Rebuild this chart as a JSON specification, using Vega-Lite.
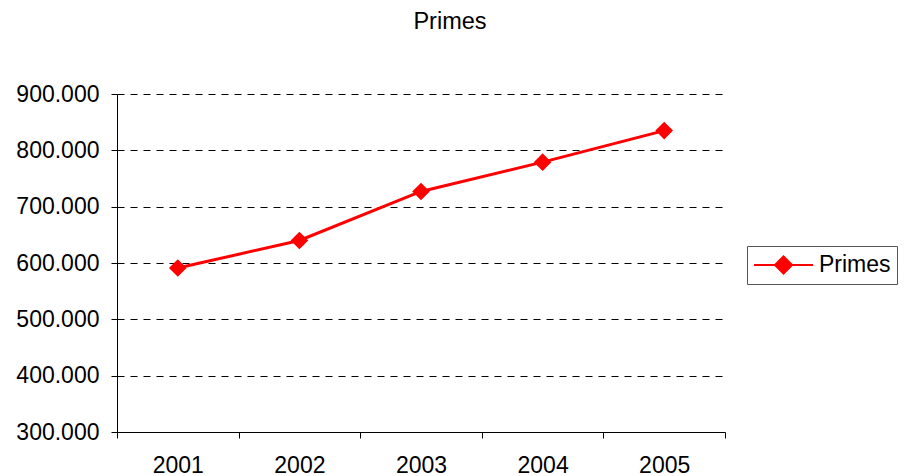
{
  "$schema": "https://vega.github.io/schema/vega-lite/v6.json",
  "width": 608,
  "height": 338,
  "autosize": {"type": "none"},
  "padding": {"left": 117, "top": 94, "right": 181, "bottom": 44},
  "background": "white",
  "title": {"text": "Primes", "font": "Liberation Sans", "fontSize": 23.5, "fontWeight": "normal", "color": "black", "anchor": "middle", "dx": 29, "offset": 50},
  "config": {
    "view": {"stroke": null},
    "axis": {"labelFont": "Liberation Sans", "labelFontSize": 23, "labelColor": "black", "domainColor": "black", "tickColor": "black", "domainWidth": 1, "tickWidth": 1, "titleFontSize": 0}
  },
  "data": {
    "values": [
      {"year": 2001, "value": 591000, "series": "Primes"},
      {"year": 2002, "value": 640000, "series": "Primes"},
      {"year": 2003, "value": 727000, "series": "Primes"},
      {"year": 2004, "value": 779000, "series": "Primes"},
      {"year": 2005, "value": 835000, "series": "Primes"}
    ]
  },
  "encoding": {
    "x": {
      "field": "year", "type": "quantitative",
      "scale": {"domain": [2000.5, 2005.5], "nice": false, "zero": false},
      "axis": {
        "title": null, "grid": false,
        "values": [2000.5, 2001, 2001.5, 2002, 2002.5, 2003, 2003.5, 2004, 2004.5, 2005, 2005.5],
        "labelExpr": "datum.value % 1 === 0 ? '' + datum.value : ''",
        "tickOpacity": {"condition": {"test": "datum.value % 1 === 0", "value": 0}, "value": 1},
        "tickSize": 6, "labelPadding": 16, "labelFlush": false, "labelOverlap": false
      }
    },
    "y": {
      "field": "value", "type": "quantitative",
      "scale": {"domain": [300000, 900000], "nice": false, "zero": false},
      "axis": {
        "title": null,
        "values": [300000, 400000, 500000, 600000, 700000, 800000, 900000],
        "labelExpr": "replace(format(datum.value, ','), ',', '.')",
        "grid": true, "gridColor": "black", "gridDash": [7, 6], "gridWidth": 1,
        "tickSize": 6, "labelPadding": 12
      }
    }
  },
  "layer": [
    {
      "mark": {"type": "line", "color": "#ff0000", "strokeWidth": 3}
    },
    {
      "mark": {"type": "point", "shape": "diamond", "filled": true, "size": 310, "opacity": 1},
      "encoding": {
        "color": {
          "field": "series", "type": "nominal",
          "scale": {"range": ["#ff0000"]},
          "legend": {
            "title": null,
            "orient": "none",
            "legendX": 630,
            "legendY": 152,
            "padding": 6,
            "strokeColor": "#555555",
            "fillColor": "white",
            "symbolSize": 576,
            "symbolType": "M-1,0L3.92,0M0.75,0L1.46,-0.71L2.17,0L1.46,0.71Z",
            "symbolStrokeWidth": 2,
            "symbolFillColor": "#ff0000",
            "symbolStrokeColor": "#ff0000",
            "labelOffset": 40,
            "labelFont": "Liberation Sans",
            "labelFontSize": 23,
            "labelColor": "black",
            "labelExpr": "datum.label + '\u00a0\u00a0'",
            "encode": {
              "symbols": {"update": {"fill": {"value": "#ff0000"}, "stroke": {"value": "#ff0000"}, "strokeWidth": {"value": 2}, "opacity": {"value": 1}}}
            }
          }
        }
      }
    }
  ]
}
